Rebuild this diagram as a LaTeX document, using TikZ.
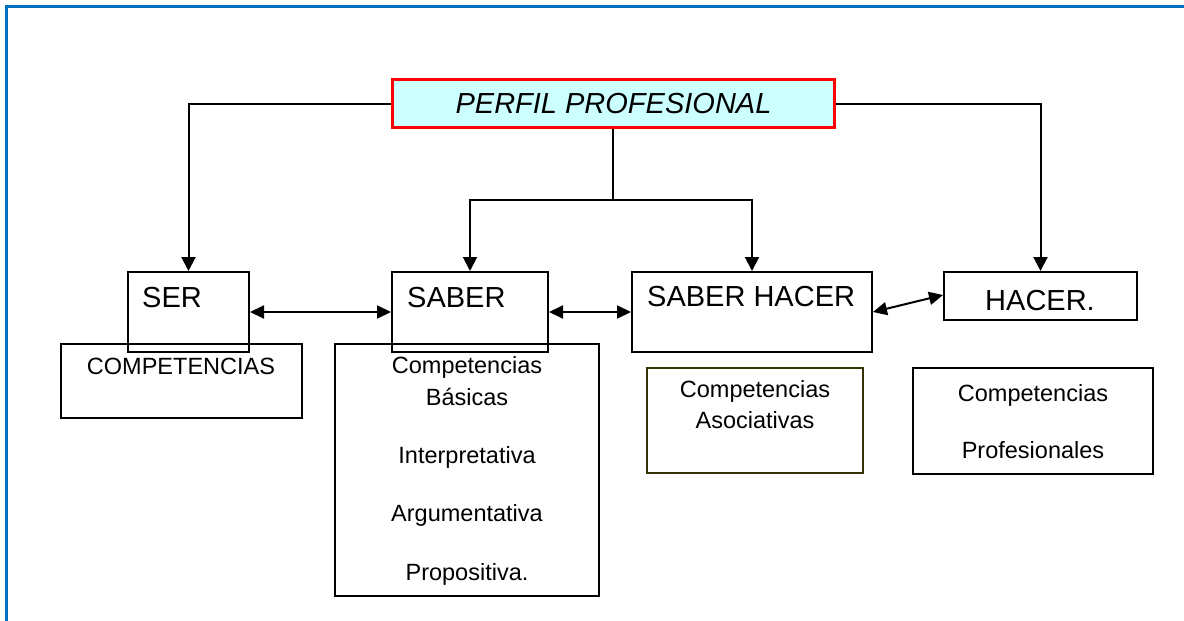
\documentclass[tikz,border=0pt]{standalone}
\usepackage{fontspec}
\setmainfont{Liberation Sans}
\usetikzlibrary{arrows.meta}
\definecolor{frameblue}{RGB}{0,112,192}
\definecolor{perfilfill}{RGB}{204,255,255}
\definecolor{olivebd}{RGB}{51,51,0}
\begin{document}
\begin{tikzpicture}[x=1pt,y=-1pt,
  box/.style={draw=black,line width=2pt},
  big/.style={font=\fontsize{29}{34}\selectfont},
  small/.style={font=\fontsize{23.5}{28}\selectfont},
  conn/.style={line width=2pt,-{Triangle[length=14pt,width=14pt]}},
  biconn/.style={line width=2pt,{Triangle[length=14pt,width=13pt]}-{Triangle[length=14pt,width=13pt]}}]
\useasboundingbox (0,0) rectangle (1184,621);
% frame
\draw[frameblue,line width=2.5pt] (6.5,621) -- (6.5,6.5) -- (1184,6.5);
% boxes
\node[draw=red,fill=perfilfill,line width=3pt,minimum width=442pt,minimum height=48pt,inner sep=0pt,
  font=\fontsize{29}{34}\selectfont\itshape] (perfil) at (613.5,103.5) {PERFIL PROFESIONAL};
\node[box,minimum width=121pt,minimum height=80pt,inner sep=0pt] (ser) at (188.5,312) {};
\node[box,minimum width=241pt,minimum height=74pt,inner sep=0pt] (comp) at (181.5,381) {};
\node[box,minimum width=156pt,minimum height=80pt,inner sep=0pt] (saber) at (470,312) {};
\node[box,minimum width=264pt,minimum height=252pt,inner sep=0pt] (basicas) at (467,470) {};
\node[box,minimum width=240pt,minimum height=80pt,inner sep=0pt] (sh) at (752,312) {};
\node[draw=olivebd,line width=2pt,minimum width=216pt,minimum height=105pt,inner sep=0pt] (asoc) at (755,420.5) {};
\node[box,minimum width=193pt,minimum height=48pt,inner sep=0pt] (hacer) at (1040.5,296) {};
\node[box,minimum width=240pt,minimum height=106pt,inner sep=0pt] (prof) at (1033,421) {};
% texts
\node[big,anchor=base west,inner sep=0pt] (tser) at (142,307) {SER};
\node[big,anchor=base west,inner sep=0pt] (tsaber) at (407,307) {SABER};
\node[big,anchor=base west,inner sep=0pt] (tsh) at (647,306) {SABER HACER};
\node[big,anchor=base,inner sep=0pt] (thacer) at (1040,310) {HACER.};
\node[small,anchor=base,inner sep=0pt] (tcomp) at (181,374) {COMPETENCIAS};
\node[small,anchor=base,inner sep=0pt] (tb1) at (467,373) {Competencias};
\node[small,anchor=base,inner sep=0pt] (tb2) at (467,405) {Básicas};
\node[small,anchor=base,inner sep=0pt] (tb3) at (467,463) {Interpretativa};
\node[small,anchor=base,inner sep=0pt] (tb4) at (467,521) {Argumentativa};
\node[small,anchor=base,inner sep=0pt] (tb5) at (467,580) {Propositiva.};
\node[small,anchor=base,inner sep=0pt] (ta1) at (755,397) {Competencias};
\node[small,anchor=base,inner sep=0pt] (ta2) at (755,428) {Asociativas};
\node[small,anchor=base,inner sep=0pt] (tp1) at (1033,401) {Competencias};
\node[small,anchor=base,inner sep=0pt] (tp2) at (1033,458) {Profesionales};
% connectors
\coordinate (split) at (613,200);
\draw[conn] (perfil.west) -| (ser.north);
\draw[conn] (perfil.east) -| (hacer.north);
\draw[line width=2pt] (perfil.south -| split) -- (split);
\draw[conn] (split) -| (saber.north);
\draw[conn] (split) -| (sh.north);
\draw[biconn] (ser.east) -- (saber.west);
\draw[biconn] (saber.east) -- (sh.west);
\draw[biconn] (sh.east) -- ([yshift=1pt]hacer.west);
\end{tikzpicture}
\end{document}
